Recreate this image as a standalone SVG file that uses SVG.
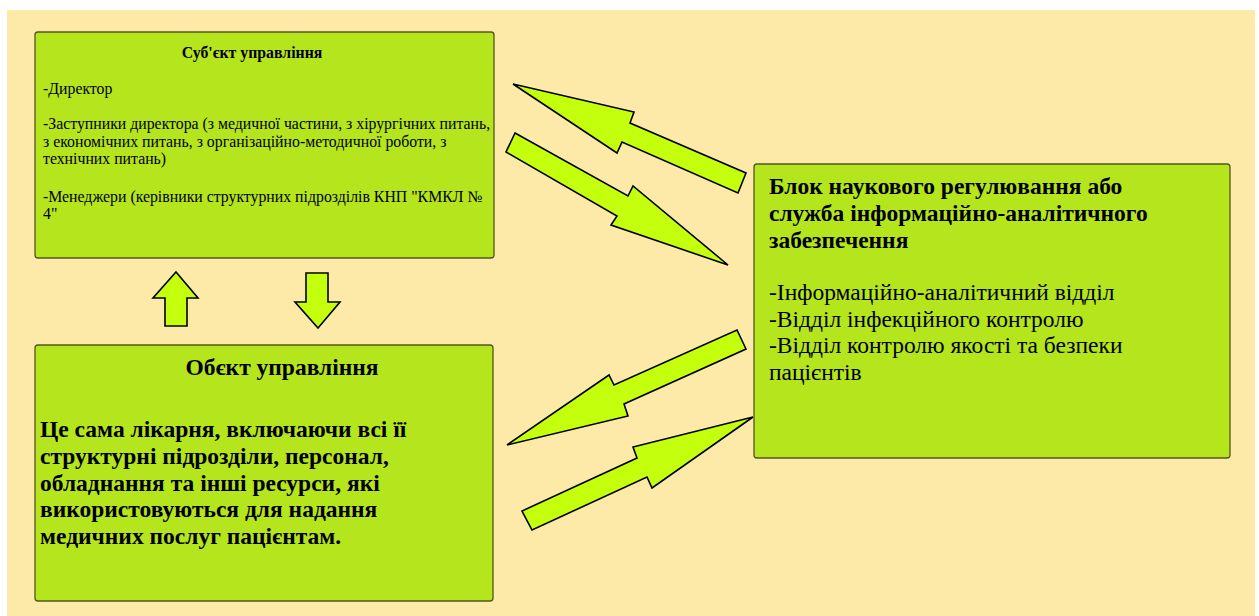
<svg xmlns="http://www.w3.org/2000/svg" width="1259" height="616" viewBox="0 0 1259 616">
<style>
.box{fill:#b5e51d;stroke:#55551f;stroke-width:1.3}
.arr{fill:#c4ff0e;stroke:#000;stroke-width:1.6;stroke-linejoin:miter}
.t{font-family:"Liberation Serif","Times New Roman",serif;fill:#000}
.s{font-size:15.8px}
.m{font-size:23.5px}
.b{font-weight:bold}
</style>
<rect x="0" y="0" width="1259" height="616" fill="#ffffff"/>
<rect x="7" y="10" width="1248" height="606" fill="#fdeaa8"/>
<g id="subject">
<rect class="box" x="35" y="32" width="459" height="226" rx="3"/>
<text class="t s b" x="252" y="58" text-anchor="middle">Суб'єкт управління</text>
<text class="t s" x="43" y="94">-Директор</text>
<text class="t s" x="43" y="129">-Заступники директора (з медичної частини, з хірургічних питань,</text>
<text class="t s" x="43" y="146.5">з економічних питань, з організаційно-методичної роботи, з</text>
<text class="t s" x="43" y="164">технічних питань)</text>
<text class="t s" x="43" y="201.5">-Менеджери (керівники структурних підрозділів КНП "КМКЛ №</text>
<text class="t s" x="43" y="219">4"</text>
</g>
<g id="object">
<rect class="box" x="35" y="345" width="458" height="256" rx="3"/>
<text class="t m b" x="282" y="375" text-anchor="middle">Обєкт управління</text>
<text class="t m b" x="40" y="437">Це сама лікарня, включаючи всі її</text>
<text class="t m b" x="40" y="464">структурні підрозділи, персонал,</text>
<text class="t m b" x="40" y="490.5">обладнання та інші ресурси, які</text>
<text class="t m b" x="40" y="517">використовуються для надання</text>
<text class="t m b" x="40" y="543.5">медичних послуг пацієнтам.</text>
</g>
<g id="science">
<rect class="box" x="754" y="164" width="476" height="294" rx="3"/>
<text class="t m b" x="769" y="194">Блок наукового регулювання або</text>
<text class="t m b" x="769" y="221">служба інформаційно-аналітичного</text>
<text class="t m b" x="769" y="248">забезпечення</text>
<text class="t m" x="769" y="300">-Інформаційно-аналітичний відділ</text>
<text class="t m" x="769" y="326.5">-Відділ інфекційного контролю</text>
<text class="t m" x="769" y="353">-Відділ контролю якості та безпеки</text>
<text class="t m" x="769" y="380">пацієнтів</text>
</g>
<g id="connectors">
<polygon class="arr" points="513,84 634,112 630,123 746,173 738,193 622,142 617,153"/>
<polygon class="arr" points="515,133 628,196 633,186 728,265 611,225 617,216 506,152"/>
<polygon class="arr" points="507,445 609,375 614,385 737,330 746,349 624,404 628,416"/>
<polygon class="arr" points="753,417 633,447 637,458 522,511 532,530 647,477 652,488"/>
<polygon class="arr" points="176,272 198,298 187,298 187,326 165,326 165,298 153,298"/>
<polygon class="arr" points="306,273 328,273 328,302 340,302 318,328 295,302 306,302"/>
</g>
</svg>
